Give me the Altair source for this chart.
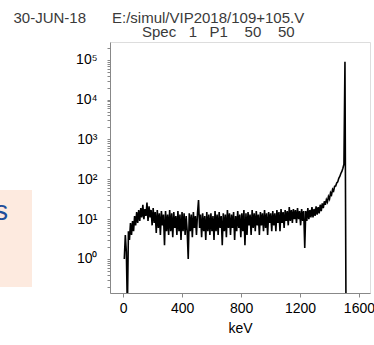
import altair as alt
import pandas as pd

# ---- data ----
channel_start_kev = 7
channel_step_kev = 7
counts = [
    1.0, 4, 1.5, 0.05, 5, 3, 8, 4, 9, 5,
    12, 7, 15, 8, 17, 9, 19, 11, 23, 10,
    18, 12, 26, 9, 21, 11, 17, 7, 19, 8,
    15, 4.5, 17, 6, 14, 4, 16, 7, 13, 2.2,
    16, 5, 13, 4, 17, 5, 14, 3.5, 15, 6,
    12, 4, 16, 5, 13, 3, 15, 5, 14, 4,
    12, 5, 1.0, 14, 5, 13, 3.5, 15, 6, 12,
    4, 14, 30, 6, 13, 3.5, 14, 5, 12, 3,
    15, 5, 13, 4, 14, 5, 12, 3, 16, 5,
    13, 4, 15, 6, 12, 2.2, 14, 5, 13, 3.5,
    17, 6, 14, 4, 13, 6, 15, 3, 12, 5,
    16, 6, 13, 3.5, 14, 5, 17, 2.2, 14, 4,
    15, 7, 13, 4, 17, 6, 14, 5, 16, 7,
    13, 4, 15, 7, 14, 5, 17, 6, 14, 4,
    15, 8, 14, 5, 16, 7, 14, 5, 17, 8,
    15, 5, 18, 8, 15, 6, 17, 9, 16, 7,
    20, 9, 17, 8, 18, 10, 17, 8, 19, 10,
    16, 7, 18, 9, 16, 1.9, 16, 9, 19, 10,
    17, 11, 20, 11, 18, 12, 21, 13, 20, 14,
    23, 16, 25, 19, 28, 23, 31, 27, 37, 32,
    46, 41, 56, 51, 67, 68, 81, 86, 106, 118,
    140, 158, 190, 240, 90000, 0.05,
]
energies = [channel_start_kev + channel_step_kev * i for i in range(len(counts))]

x_ticks = [0, 400, 800, 1200, 1600]
y_major = [1, 10, 100, 1000, 10000, 100000]
y_major_labels = ["10⁰", "10¹", "10²", "10³", "10⁴", "10⁵"]
x_title = "keV"

date_text = "30-JUN-18"
file_text = "E:/simul/VIP2018/109+105.V"
spec_text = "Spec\u00a0\u00a0 1\u00a0\u00a0 P1\u00a0\u00a0\u00a0 50\u00a0\u00a0\u00a0 50"
side_text = "s"

# ---- build ----
df = pd.DataFrame({"keV": energies, "counts": counts})

y_minor = []
for m in [0.1] + y_major:
    for k in range(2, 10):
        v = round(m * k, 6)
        if 0.14 <= v <= 2.8e5:
            y_minor.append(v)
y_all = sorted(set(y_major + y_minor))

label_expr = ""
for v, lab in zip(y_major, y_major_labels):
    label_expr += f"abs(datum.value - {v}) < {v} * 0.001 ? '{lab}' : "
label_expr += "''"

FONT = "Liberation Sans Narrow, Liberation Sans, Arial, sans-serif"
TXT = "#3a3a3a"

line = alt.Chart(df).mark_line(color="black", strokeWidth=1.6, clip=True).encode(
    x=alt.X("keV:Q",
            scale=alt.Scale(domain=[-90, 1675], nice=False, zero=False),
            axis=alt.Axis(values=x_ticks, format="d", title=x_title, grid=False, tickSize=4,
                          labelPadding=4, titlePadding=6, labelFontSize=14,
                          titleFontSize=14, titleFontWeight="normal")),
    y=alt.Y("counts:Q",
            scale=alt.Scale(type="log", domain=[0.14, 2.8e5], nice=False),
            axis=alt.Axis(values=y_all, labelExpr=label_expr, title=None, grid=False,
                          tickSize=3, labelPadding=10, labelFontSize=14,
                          labelOverlap=False)),
)

texts = pd.DataFrame({"t": [0]})
t_date = alt.Chart(texts).mark_text(text=date_text, align="right", baseline="alphabetic",
                                    font="Liberation Sans", fontSize=15, color=TXT).encode(
    x=alt.value(-24), y=alt.value(-19))
t_file = alt.Chart(texts).mark_text(text=file_text, align="left", baseline="alphabetic",
                                    font="Liberation Sans", fontSize=15, color=TXT).encode(
    x=alt.value(2), y=alt.value(-19))
t_spec = alt.Chart(texts).mark_text(text=spec_text, align="left", baseline="alphabetic",
                                    font="Liberation Sans", fontSize=15, color=TXT).encode(
    x=alt.value(32), y=alt.value(-5))
box = alt.Chart(texts).mark_rect(color="#fdeadf").encode(
    x=alt.value(-110), x2=alt.value(-78), y=alt.value(148), y2=alt.value(245))
t_side = alt.Chart(texts).mark_text(text=side_text, align="right", baseline="alphabetic",
                                    font="Liberation Sans", fontSize=27, color="#1f4e9a").encode(
    x=alt.value(-102), y=alt.value(178))

chart = alt.layer(box, t_side, line, t_date, t_file, t_spec).properties(
    width=260, height=251,
    autosize=alt.AutoSizeParams(type="none"),
    padding={"left": 110, "top": 42, "right": 4, "bottom": 52},
).configure_view(stroke="#333333", strokeWidth=1).configure_axis(
    domainColor="#333333", tickColor="#333333", labelColor=TXT, titleColor=TXT,
    labelFont=FONT, titleFont=FONT,
).configure(background="white")

chart.save("out.html", embed_options={"renderer": "svg", "actions": False})
